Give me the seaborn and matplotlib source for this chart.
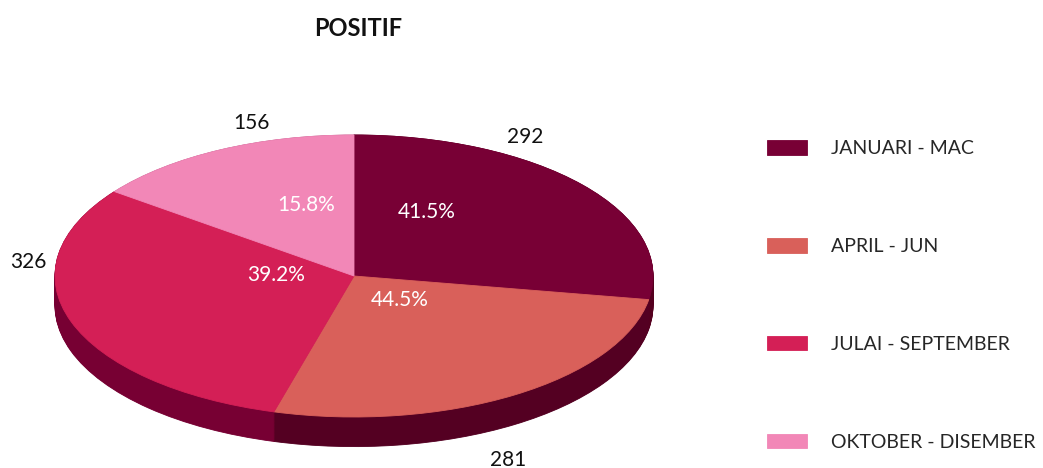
import matplotlib.pyplot as plt
import seaborn as sns
import numpy as np

# data
suku = ['JANUARI - MAC', 'APRIL - JUN', 'JULAI - SEPTEMBER', 'OKTOBER - DISEMBER']
nilai = [292, 281, 326, 156]
peratus = ['41.5%', '44.5%', '39.2%', '15.8%']

warna_atas = ['#780035', '#d9605a', '#d41f56', '#f287b7']
warna_sisi = ['#55001f', '#540022', '#770033', '#b0507f']

# layout (pixel positions of labels, converted below)
W, H = 1043, 468
CX, CY, RX, RY = 354, 276, 299, 141
DEPTH = 0.21
pos_nilai = [(525, 137), (508, 460), (28, 262), (251, 123)]
pos_peratus = [(427, 212), (400, 300), (276, 275), (306, 205)]


def ke_data(px, py):
    return (px - CX) / RX, (CY - py) / RY


sns.set_theme(style='white')
plt.rcParams['font.family'] = ['Lato', 'DejaVu Sans']

fig = plt.figure(figsize=(W / 100, H / 100), dpi=100)
ax = fig.add_axes([0, 0, 1, 1])

# sisi (side wall) - stacked pies
for k in np.linspace(-DEPTH, 0, 40):
    w, _ = ax.pie(nilai, colors=warna_sisi, startangle=90, counterclock=False,
                  center=(0, k), radius=1, wedgeprops={'linewidth': 0})
    for p in w:
        p.set_edgecolor(p.get_facecolor())
        p.set_linewidth(0.6)

# permukaan atas
wedges, _ = ax.pie(nilai, colors=warna_atas, startangle=90, counterclock=False,
                   center=(0, 0), radius=1, wedgeprops={'linewidth': 0})
for p in wedges:
    p.set_edgecolor(p.get_facecolor())
    p.set_linewidth(0.6)

ax.set_aspect('auto')
ax.set_xlim(-CX / RX, (W - CX) / RX)
ax.set_ylim((CY - H) / RY, CY / RY)
ax.axis('off')

for v, (px, py) in zip(nilai, pos_nilai):
    x, y = ke_data(px, py)
    ax.text(x, y, str(v), ha='center', va='center', fontsize=15, color='#111111')

for t, (px, py) in zip(peratus, pos_peratus):
    x, y = ke_data(px, py)
    ax.text(x, y, t, ha='center', va='center', fontsize=15, color='white')

fig.text(358 / W, 1 - 28 / H, 'POSITIF', ha='center', va='center',
         fontsize=17, fontweight='bold', color='#111111')

fig.legend(wedges, suku, loc='center left', bbox_to_anchor=(767 / W, 1 - 295.5 / H),
           frameon=False, fontsize=14, handlelength=2.06, handleheight=0.77,
           handletextpad=1.24, labelspacing=4.15, borderpad=0, borderaxespad=0)

plt.savefig('out.png', dpi=100)
plt.close()
